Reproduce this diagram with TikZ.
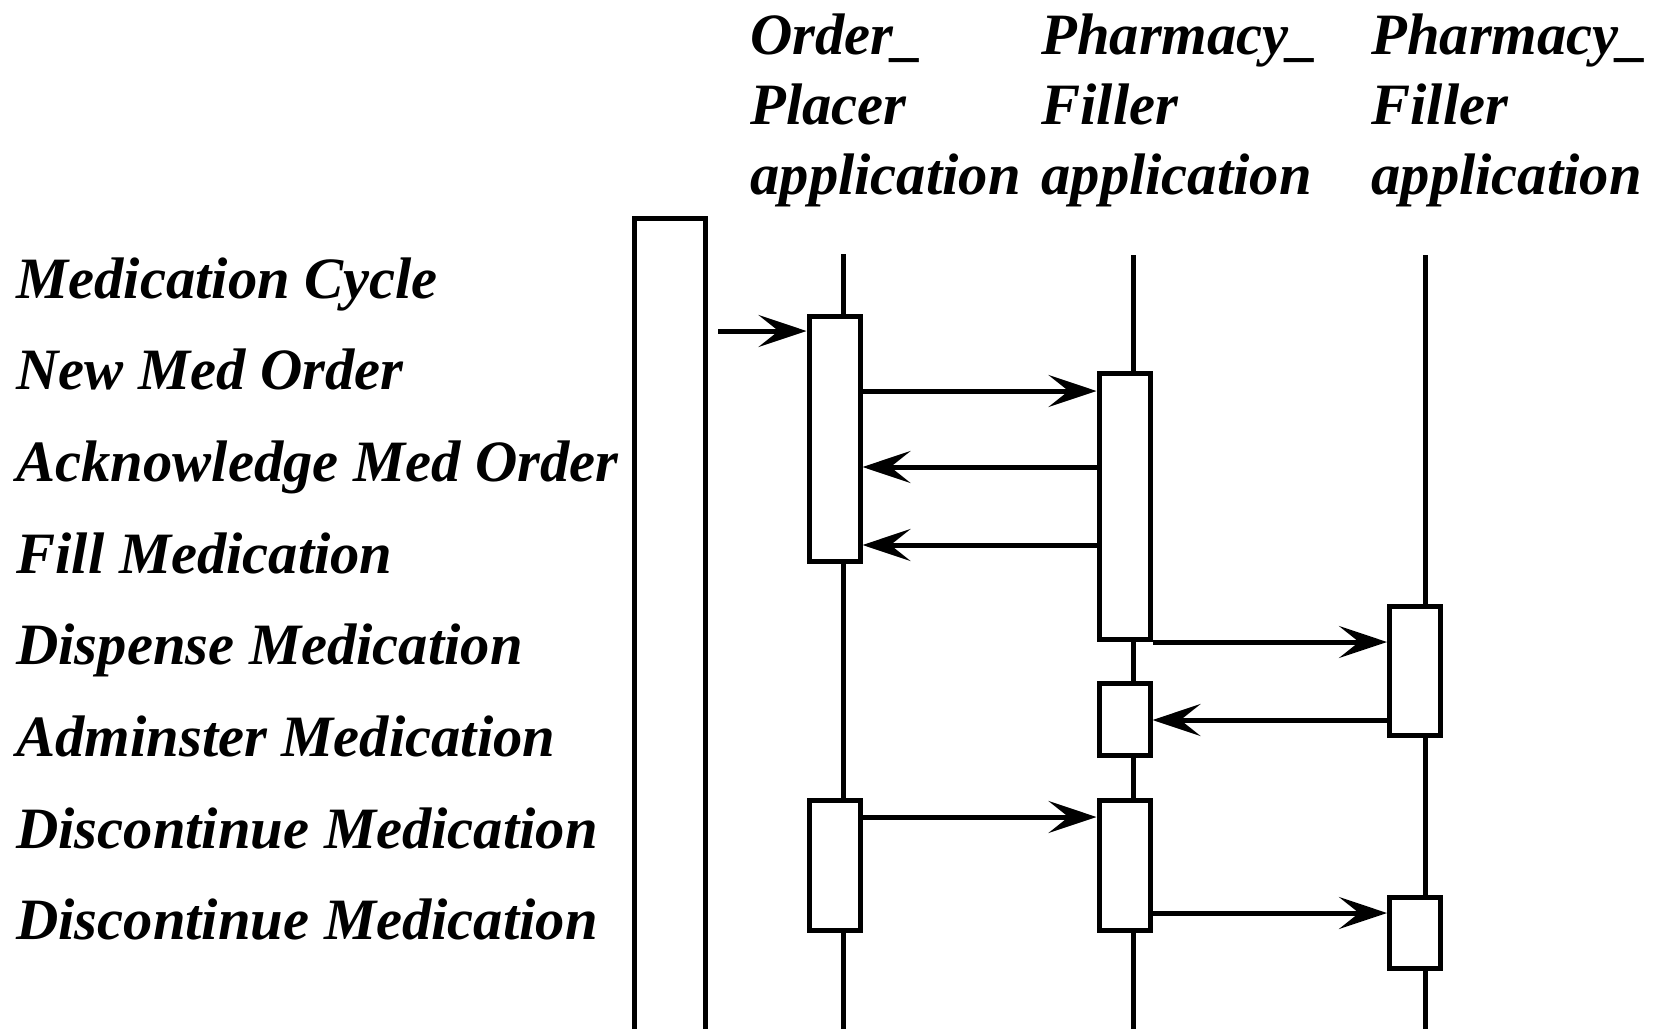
\documentclass[tikz,border=0pt]{standalone}
\usepackage{fontspec}
\setmainfont{Liberation Serif}
\usetikzlibrary{arrows.meta}

\tikzset{
  lifeline/.style={line width=2.5pt},
  act/.style={draw, fill=white, line width=2.5pt, inner sep=0pt, minimum width=25.5pt},
  msg/.style={line width=2.5pt, -{Stealth[length=24pt,width=16pt,inset=10pt]}},
  lbl/.style={anchor=base west, inner sep=0pt, font=\fontsize{29.3}{35}\selectfont\bfseries\itshape},
  head/.style={anchor=north west, inner sep=0pt, align=left, font=\fontsize{29.3}{35}\selectfont\bfseries\itshape}
}

\begin{document}
\begin{tikzpicture}[x=0.5pt,y=-0.5pt]
    \useasboundingbox (0,0) rectangle (1657,1028);
    \clip (0,0) rectangle (1657,1028);

    % Column headers
    \node[head] (hOrder) at (750,13) {Order\_\\Placer\\application};
    \node[head] (hPharm) at (1041,13) {Pharmacy\_\\Filler\\application};
    \node[head] (hPharmB) at (1371,13) {Pharmacy\_\\Filler\\application};

    % Message labels
    \foreach \txt [count=\i from 0] in {Medication Cycle, New Med Order,
        Acknowledge Med Order, Fill Medication, Dispense Medication,
        Adminster Medication, Discontinue Medication, Discontinue Medication}
        \node[lbl] (lab\i) at (16,298+91.7*\i) {\txt};

    % Lifelines
    \coordinate (topO) at (843,254);  \coordinate (botO) at (843,1040);
    \coordinate (topP) at (1133,255); \coordinate (botP) at (1133,1040);
    \coordinate (topQ) at (1425,255); \coordinate (botQ) at (1425,1040);
    \draw[lifeline] (topO) -- (botO);
    \draw[lifeline] (topP) -- (botP);
    \draw[lifeline] (topQ) -- (botQ);

    % Cycle frame
    \node[act, minimum width=35.5pt, minimum height=421pt] (frame) at (669.5,639) {};

    % Activation boxes
    \node[act, minimum height=122.5pt] (A1) at (834.5,438.5) {};
    \node[act, minimum height=65pt]    (A2) at (834.5,865) {};
    \node[act, minimum height=133pt]   (B1) at (1124.5,506) {};
    \node[act, minimum height=36pt]    (B2) at (1124.5,719) {};
    \node[act, minimum height=65pt]    (B3) at (1124.5,865) {};
    \node[act, minimum height=64.5pt]  (C1) at (1415,670.5) {};
    \node[act, minimum height=35.5pt]  (C2) at (1415,932.5) {};

    % Messages
    \coordinate (m0) at (718,331);
    \draw[msg] (m0) -- (A1.west |- m0);
    \foreach \y/\a/\b in {391/A1.east/B1.west, 467/B1.west/A1.east,
        545/B1.west/A1.east, 642/B1.east/C1.west, 720/C1.west/B2.east,
        817/A2.east/B3.west, 913/B3.east/C2.west}
        \draw[msg] (\a |- 0,\y) -- (\b |- 0,\y);
\end{tikzpicture}
\end{document}
